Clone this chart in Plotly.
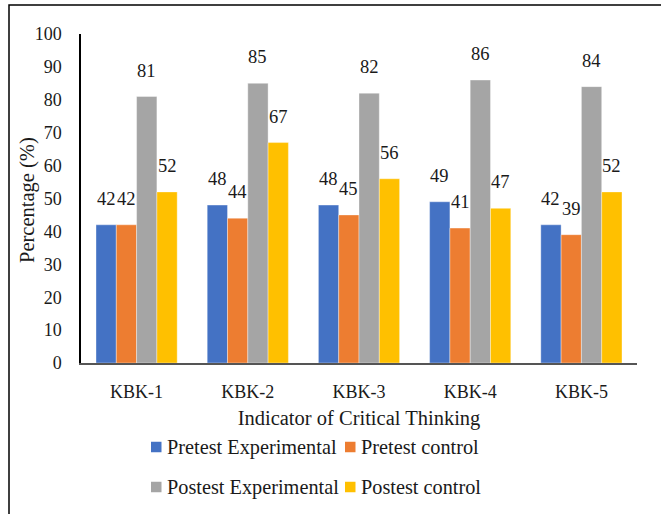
import plotly.graph_objects as go

categories = ["KBK-1", "KBK-2", "KBK-3", "KBK-4", "KBK-5"]
pretest_experimental = [42, 48, 48, 49, 42]
pretest_control = [42, 44, 45, 41, 39]
postest_experimental = [81, 85, 82, 86, 84]
postest_control = [52, 67, 56, 47, 52]
y_ticks = [0, 10, 20, 30, 40, 50, 60, 70, 80, 90, 100]

series_names = ["Pretest Experimental", "Pretest control",
                "Postest Experimental", "Postest control"]
series_values = [pretest_experimental, pretest_control,
                 postest_experimental, postest_control]
series_colors = ["#4472C4", "#ED7D31", "#A5A5A5", "#FFC000"]

FONT = "Liberation Serif"
TXT = "#1a1a1a"
W, H = 661, 514
ML, MR, MT, MB = 81, 24, 34, 151
BARGAP = 0.27
plot_w = W - ML - MR
plot_h = H - MT - MB


def px_x(px):
    """Page pixel column -> paper x."""
    return (px - ML) / plot_w


def px_y(py):
    """Page pixel row -> paper y."""
    return (H - MB - py) / plot_h


fig = go.Figure()
for name, vals, color in zip(series_names, series_values, series_colors):
    fig.add_trace(go.Bar(
        name=name, x=categories, y=vals, showlegend=False,
        marker=dict(color=color, line=dict(color="rgba(255,255,255,0.6)", width=0.6)),
    ))

# value labels above each bar, shifted to the bar's slot within its group
cat_w = plot_w / len(categories)
bar_w = cat_w * (1 - BARGAP) / len(series_names)
annotations = []
shapes = []
for i, vals in enumerate(series_values):
    dx = (i - (len(series_names) - 1) / 2) * bar_w
    for c, v in zip(categories, vals):
        annotations.append(dict(
            x=c, y=v, xref="x", yref="y", text=str(v), showarrow=False,
            xshift=dx, yshift=14, yanchor="bottom",
            font=dict(family=FONT, size=18.5, color=TXT),
        ))

# rotated y-axis title
annotations.append(dict(
    text="Percentage (%)", xref="paper", yref="paper",
    x=px_x(27), y=px_y(200),
    xanchor="center", yanchor="middle", textangle=-90, showarrow=False,
    font=dict(family=FONT, size=20.5, color=TXT),
))

# two-row legend: colour key square followed by the series name
legend_cols = [151, 345]
legend_rows = [447, 487]
KEY = 10.5
for i, (name, color) in enumerate(zip(series_names, series_colors)):
    kx = legend_cols[i % 2]
    ky = legend_rows[i // 2]
    shapes.append(dict(
        type="rect", xref="paper", yref="paper",
        x0=px_x(kx), x1=px_x(kx + KEY), y0=px_y(ky + KEY / 2), y1=px_y(ky - KEY / 2),
        fillcolor=color, line=dict(width=0),
    ))
    annotations.append(dict(
        text=name, xref="paper", yref="paper", x=px_x(kx + KEY + 3), y=px_y(ky),
        xanchor="left", yanchor="middle", showarrow=False,
        font=dict(family=FONT, size=20.3, color=TXT),
    ))

# outer frame
shapes.append(dict(type="rect", xref="paper", yref="paper",
                   x0=px_x(9), x1=px_x(720), y0=px_y(540), y1=px_y(5),
                   line=dict(color="black", width=1.5), layer="below"))

fig.update_layout(
    width=W, height=H,
    margin=dict(l=ML, r=MR, t=MT, b=MB, autoexpand=False),
    paper_bgcolor="white", plot_bgcolor="white",
    barmode="group", bargap=BARGAP, bargroupgap=0,
    font=dict(family=FONT, size=18, color=TXT),
    showlegend=False,
    annotations=annotations,
    shapes=shapes,
    xaxis=dict(
        showgrid=False, showline=True, linecolor="#555555", linewidth=1.5,
        ticks="", ticklabelstandoff=12,
        title=dict(text="Indicator of Critical Thinking", standoff=9,
                   font=dict(family=FONT, size=20.5, color=TXT)),
        tickfont=dict(family=FONT, size=18, color=TXT),
    ),
    yaxis=dict(
        range=[0, 100], tickvals=y_ticks, showgrid=False,
        showline=True, linecolor="black", linewidth=1.5, zeroline=False,
        ticks="", ticklabelstandoff=14,
        tickfont=dict(family=FONT, size=18, color=TXT),
    ),
)

fig.write_html("out.html")
